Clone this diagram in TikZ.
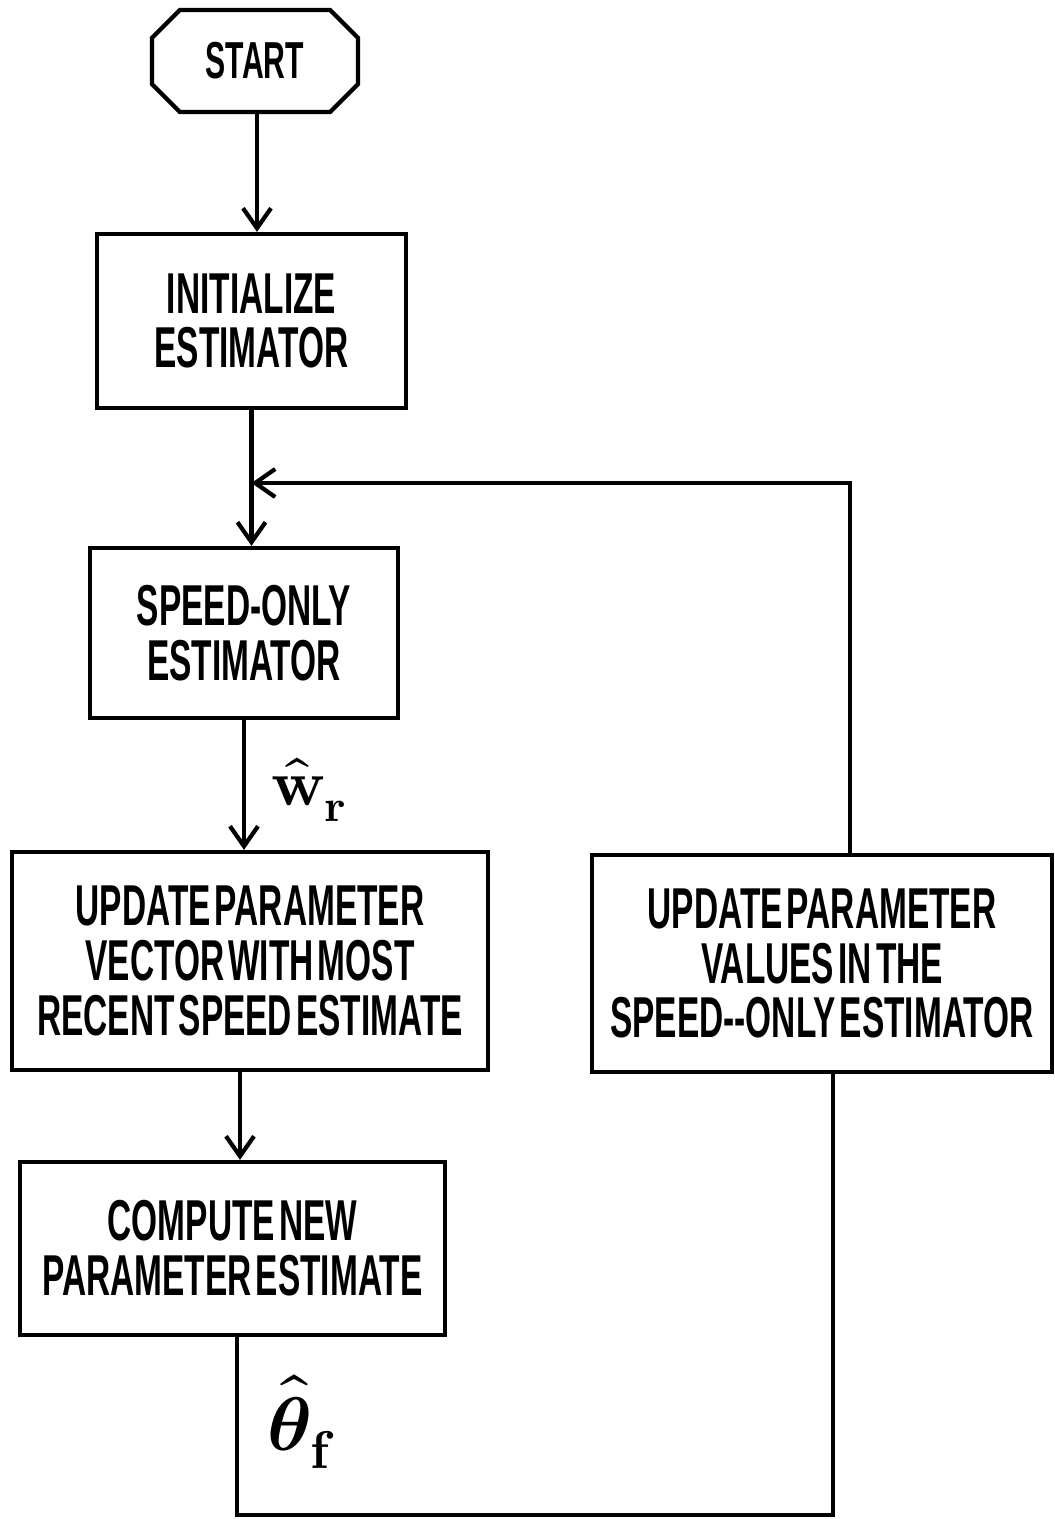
\documentclass[tikz,border=0pt]{standalone}
\usepackage{amsmath}
\usepackage{fontspec}
\usepackage{unicode-math}
\newfontfamily\flowfont[FakeStretch=0.58,WordSpace=0.45]{Liberation Sans}
\usepackage{tikz}
\usetikzlibrary{arrows.meta, positioning, shapes.misc, calc}
\tikzset{
  procbox/.style={
    draw, line width=3pt, align=center, fill=white,
    font=\flowfont\bfseries\fontsize{41}{39}\selectfont, inner sep=2pt
  },
  termbox/.style={
    chamfered rectangle, chamfered rectangle xsep=0.35cm,
    chamfered rectangle ysep=0.35cm,
    draw, line width=3pt, align=center, fill=white,
    font=\flowfont\bfseries\fontsize{37}{40}\selectfont
  },
  flowline/.style={line width=3pt},
  flowarrow/.style={line width=3pt, -{Straight Barb[length=5mm, width=7mm, line width=3pt]}},
  estlabel/.style={font=\fontsize{46}{50}\selectfont, inner sep=0pt},
}

\begin{document}
\begin{tikzpicture}[x=0.025cm, y=-0.025cm]
  \useasboundingbox (0,0) rectangle (1054,1519);

  % ── Main column ────────────────────────────────────────────────
  \node[termbox, minimum width=5.15cm, minimum height=2.55cm]
    (start) at (255,61) {START};
  \node[procbox, minimum width=7.725cm, minimum height=4.35cm]
    (init) at (251.5,321) {INITIALIZE\\ESTIMATOR};
  \node[procbox, minimum width=7.7cm, minimum height=4.25cm]
    (speedest) at (244,633) {SPEED-ONLY\\ESTIMATOR};
  \node[procbox, minimum width=11.9cm, minimum height=5.45cm]
    (updvec) at (250,961)
    {UPDATE PARAMETER\\VECTOR WITH MOST\\RECENT SPEED ESTIMATE};
  \node[procbox, minimum width=10.625cm, minimum height=4.325cm]
    (compute) at (232.5,1248.5) {COMPUTE NEW\\PARAMETER ESTIMATE};

  % ── Feedback box ───────────────────────────────────────────────
  \node[procbox, minimum width=11.5cm, minimum height=5.425cm]
    (updpar) at (822,963.5)
    {UPDATE PARAMETER\\VALUES IN THE\\SPEED-{}-ONLY ESTIMATOR};

  % ── Loop corners ───────────────────────────────────────────────
  \coordinate (loopup) at (850,483);
  \coordinate (loopdown) at (237,1515);
  \coordinate (loopcorner) at (833,1515);

  % ── Connectors ─────────────────────────────────────────────────
  \draw[flowarrow] (start.south -| 257,0) -- (init.north -| 257,0);
  \draw[flowarrow] (init.south) -- (init.south |- speedest.north);
  \draw[flowarrow] (speedest.south) -- (speedest.south |- updvec.north);
  \draw[flowarrow] (updvec.south -| 240,0) -- (compute.north -| 240,0);
  \draw[flowline] (compute.south -| loopdown) -- (loopdown)
    -- (loopcorner) -- (loopcorner |- updpar.south);
  \draw[flowarrow] (updpar.north -| loopup) -- (loopup)
    -- (loopup -| init.south);

  % ── Estimate labels ────────────────────────────────────────────
  \node[estlabel] (wlabel) at (309,790) {$\symbf{\hat{w}}_{\symbf{r}}$};
  \node[estlabel, font=\fontsize{54}{58}\selectfont]
    (thlabel) at (302,1422) {$\symbf{\hat{\theta}}_{\symbf{f}}$};
\end{tikzpicture}
\end{document}
